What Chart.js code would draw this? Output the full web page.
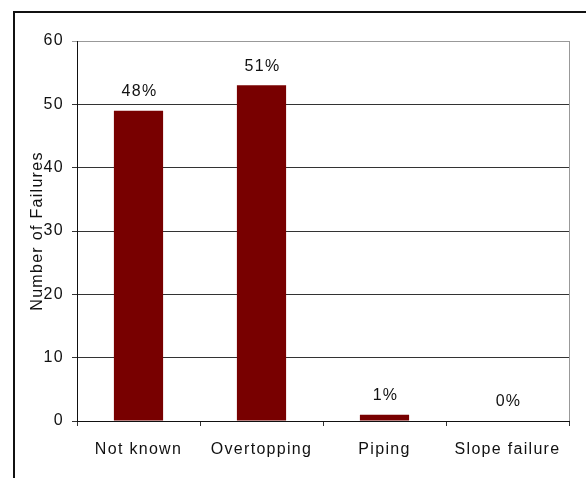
<!DOCTYPE html>
<html>
<head>
<meta charset="utf-8">
<script src="https://cdn.jsdelivr.net/npm/chart.js@4.4.1/dist/chart.umd.min.js"></script>
<style>
  body { margin: 0; background: #fff; }
  #wrap { position: relative; width: 586px; height: 478px; }
  #frame { position: absolute; left: 13px; top: 11px; right: 0; bottom: 0;
           border-left: 2px solid #111; border-top: 2px solid #111; pointer-events: none; }
</style>
</head>
<body>
<div id="wrap">
  <canvas id="failures" width="586" height="478"></canvas>
  <div id="frame"></div>
</div>
<script>
var causes = ['Not known', 'Overtopping', 'Piping', 'Slope failure'];
var failures = [49, 53, 1, 0];
var shares = ['48%', '51%', '1%', '0%'];
var yTicks = [0, 10, 20, 30, 40, 50, 60];

var font = { family: 'Liberation Sans, Arial, sans-serif', size: 16 };
var spacing = '1.3px';

// wider letter spacing for all chart text
var wideText = {
    id: 'wideText',
    beforeDraw: function(chart) {
        chart.ctx.letterSpacing = spacing;
    }
};

// share labels above each bar
var shareLabels = {
    id: 'shareLabels',
    afterDatasetsDraw: function(chart) {
        var ctx = chart.ctx;
        var bars = chart.getDatasetMeta(0).data;
        ctx.save();
        ctx.letterSpacing = spacing;
        ctx.font = font.size + 'px ' + font.family;
        ctx.fillStyle = '#111';
        ctx.textAlign = 'center';
        ctx.textBaseline = 'middle';
        bars.forEach(function(bar, i) {
            ctx.fillText(shares[i], bar.x + 1, bar.y - 19);
        });
        ctx.restore();
    }
};

// grey right edge of the plot area
var plotEdge = {
    id: 'plotEdge',
    beforeDatasetsDraw: function(chart) {
        var a = chart.chartArea, ctx = chart.ctx;
        ctx.save();
        ctx.strokeStyle = '#999';
        ctx.lineWidth = 1;
        ctx.beginPath();
        ctx.moveTo(a.right + 0.5, a.top);
        ctx.lineTo(a.right + 0.5, a.bottom);
        ctx.stroke();
        ctx.restore();
    }
};

var ctx = document.getElementById('failures').getContext('2d');
var chart = new Chart(ctx, {
    type: 'bar',
    data: {
        labels: causes,
        datasets: [{
            data: failures,
            backgroundColor: '#780000',
            borderWidth: 0,
            categoryPercentage: 1,
            barPercentage: 0.4
        }]
    },
    options: {
        responsive: false,
        animation: false,
        layout: { padding: { left: 0, top: 41, right: 17, bottom: 0 } },
        plugins: { legend: { display: false }, tooltip: { enabled: false } },
        scales: {
            x: {
                grid: { display: true, drawOnChartArea: false, color: '#333', tickLength: 5, offset: true },
                border: { color: '#111', width: 1 },
                ticks: { color: '#111', font: font, padding: 14, maxRotation: 0 },
                afterFit: function(scale) { scale.height = 57; }
            },
            y: {
                min: 0,
                max: 60,
                afterBuildTicks: function(scale) {
                    scale.ticks = yTicks.map(function(v) { return { value: v }; });
                },
                grid: {
                    color: function(c) { return c.tick && c.tick.value === 60 ? '#999' : '#333'; },
                    tickLength: 5
                },
                border: { color: '#111', width: 1 },
                ticks: { color: '#111', font: font, padding: 8 },
                title: {
                    display: true,
                    text: 'Number of Failures',
                    color: '#111',
                    font: font,
                    padding: { top: 28, bottom: 0 }
                },
                afterFit: function(scale) { scale.width = 77; }
            }
        }
    },
    plugins: [wideText, shareLabels, plotEdge]
});
</script>
</body>
</html>
